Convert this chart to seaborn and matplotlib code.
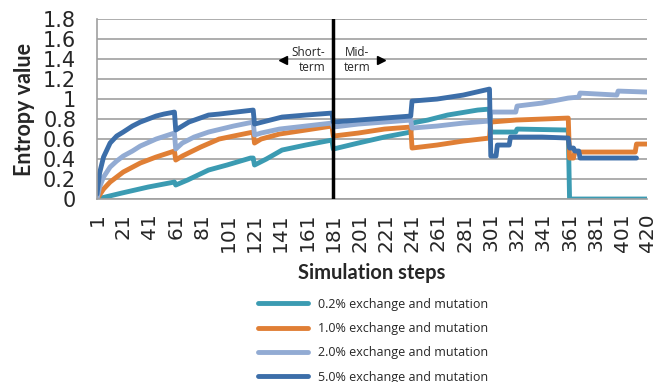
import matplotlib
matplotlib.use("Agg")
import matplotlib.pyplot as plt
import seaborn as sns
import pandas as pd

# steps / entropy values (jumps every 60 steps)
steps_02 = [1, 20, 40, 60, 61, 70, 86, 100, 118, 120, 121, 130, 142, 160, 180,
            181, 200, 220, 240, 241, 253, 268, 291, 300, 301, 320, 321, 360, 361, 420]
vals_02 = [0.0, 0.06, 0.12, 0.17, 0.14, 0.19, 0.29, 0.34, 0.41, 0.41, 0.34, 0.40, 0.49, 0.54, 0.59,
           0.50, 0.56, 0.62, 0.67, 0.76, 0.79, 0.84, 0.89, 0.90, 0.67, 0.67, 0.70, 0.69, 0.0, 0.0]

steps_10 = [1, 6, 11, 21, 34, 46, 60, 61, 66, 80, 94, 105, 120, 121, 126, 140, 160, 180,
            181, 200, 220, 240, 241, 260, 280, 300, 301, 320, 340, 360, 361, 364, 365, 411, 412, 420]
vals_10 = [0.0, 0.10, 0.17, 0.27, 0.36, 0.42, 0.48, 0.39, 0.43, 0.52, 0.60, 0.63, 0.67, 0.56, 0.60, 0.65, 0.69, 0.73,
           0.63, 0.66, 0.70, 0.72, 0.51, 0.54, 0.58, 0.61, 0.77, 0.79, 0.80, 0.81, 0.41, 0.41, 0.47, 0.47, 0.55, 0.55]

steps_20 = [1, 3, 6, 11, 16, 21, 28, 34, 46, 60, 61, 66, 75, 86, 105, 120, 121, 126, 140, 160, 180,
            181, 200, 220, 240, 241, 260, 280, 300, 301, 320, 321, 340, 360, 368, 369, 397, 398, 420]
vals_20 = [0.0, 0.12, 0.22, 0.32, 0.38, 0.43, 0.48, 0.53, 0.60, 0.66, 0.50, 0.56, 0.62, 0.67, 0.73, 0.77, 0.64, 0.66, 0.70, 0.73, 0.76,
           0.72, 0.75, 0.77, 0.79, 0.71, 0.73, 0.76, 0.78, 0.87, 0.87, 0.93, 0.96, 1.01, 1.02, 1.06, 1.04, 1.08, 1.07]

steps_50 = [1, 3, 6, 11, 16, 21, 28, 34, 40, 46, 52, 60, 61, 71, 86, 94, 120, 121, 130, 142, 160, 180,
            181, 200, 220, 240, 241, 260, 280, 300, 301, 305, 306, 315, 316, 340, 360,
            361, 364, 365, 368, 369, 412]
vals_50 = [0.05, 0.26, 0.42, 0.56, 0.63, 0.67, 0.73, 0.77, 0.80, 0.83, 0.85, 0.87, 0.69, 0.77, 0.84, 0.85, 0.89, 0.75, 0.78, 0.82, 0.84, 0.86,
           0.77, 0.79, 0.81, 0.83, 0.98, 1.00, 1.04, 1.10, 0.43, 0.43, 0.54, 0.54, 0.62, 0.62, 0.61,
           0.51, 0.51, 0.48, 0.48, 0.41, 0.41]

labels = ["0.2% exchange and mutation", "1.0% exchange and mutation",
          "2.0% exchange and mutation", "5.0% exchange and mutation"]
colors = ["#3b9bb2", "#e07f35", "#92abd3", "#3c6ea9"]
xticks = [1, 21, 41, 61, 81, 101, 121, 141, 161, 181, 201, 221, 241, 261, 281, 301, 321, 341, 361, 381, 401, 420]
yticks = [0, 0.2, 0.4, 0.6, 0.8, 1, 1.2, 1.4, 1.6, 1.8]
ytick_labels = ["0", "0.2", "0.4", "0.6", "0.8", "1", "1.2", "1.4", "1.6", "1.8"]

series = [(steps_02, vals_02), (steps_10, vals_10), (steps_20, vals_20), (steps_50, vals_50)]

sns.set_style("white")
plt.rcParams['font.family'] = ['DejaVu Sans']

fig = plt.figure(figsize=(6.57, 3.82), dpi=100)
ax = fig.add_axes([0.1476, 0.479, 0.8372, 0.471])

for (s, v), lab, c in zip(series, labels, colors):
    df = pd.DataFrame({"step": s, "entropy": v})
    sns.lineplot(data=df, x="step", y="entropy", ax=ax, color=c, linewidth=3.5,
                 label=lab, estimator=None, sort=False)

ax.axvline(181, color="black", linewidth=2.5, zorder=5)

ax.set_xlim(1, 420)
ax.set_ylim(0, 1.8)
ax.set_xticks(xticks)
ax.set_xticklabels([str(t) for t in xticks], rotation=90, fontsize=14.5)
ax.set_yticks(yticks)
ax.set_yticklabels(ytick_labels, fontsize=15)
ax.tick_params(axis="x", length=0, pad=10)
ax.tick_params(axis="y", length=0, pad=15)
ax.yaxis.grid(True, color="#a0a0a0", linewidth=1.2)
ax.set_axisbelow(True)
for sp in ["top", "right"]:
    ax.spines[sp].set_visible(False)
for sp in ["left", "bottom"]:
    ax.spines[sp].set_color("#a0a0a0")
    ax.spines[sp].set_linewidth(1.2)

ax.set_xlabel("Simulation steps", fontsize=14.5, fontweight="bold", family="Lato", labelpad=8)
ax.set_ylabel("Entropy value", fontsize=15.5, fontweight="bold", family="Lato", labelpad=6)

# short-term / mid-term annotations
ax.text(175, 1.39, "Short-\nterm", ha="right", va="center", fontsize=8.5,
        family="Open Sans", linespacing=1.15)
ax.text(199, 1.39, "Mid-\nterm", ha="center", va="center", fontsize=8.5,
        family="Open Sans", linespacing=1.15)
ax.plot([143], [1.39], marker="<", color="black", markersize=6)
ax.plot([217], [1.39], marker=">", color="black", markersize=6)

ax.legend(loc="upper center", bbox_to_anchor=(0.568, 0.25), bbox_transform=fig.transFigure,
          frameon=False, handlelength=4.0, labelspacing=0.9,
          prop={"family": "Open Sans", "size": 9})

fig.savefig("out.png", dpi=100)
